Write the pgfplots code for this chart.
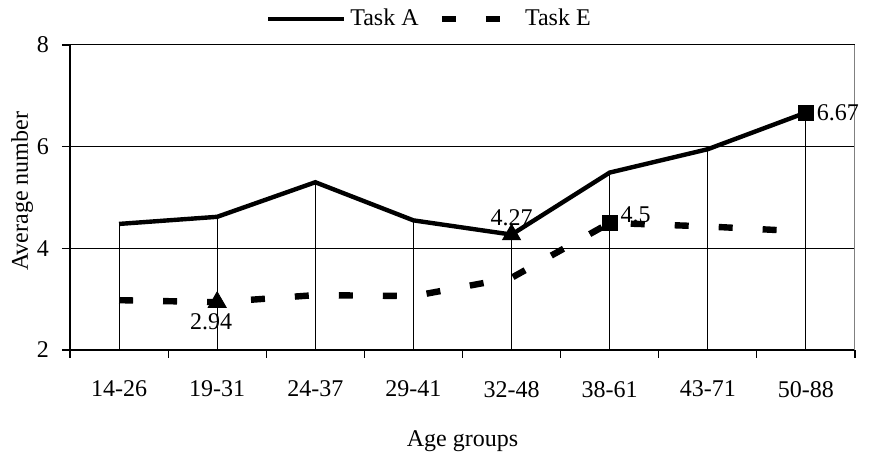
\documentclass[border=0pt]{standalone}
\usepackage{pgfplots}
\pgfplotsset{compat=1.18}
\usepackage{fontspec}
\setmainfont{Liberation Serif}
\begin{document}
\begin{tikzpicture}
\begin{axis}[
  scale only axis, width=392.5pt, height=152.5pt,
  xmin=-0.5, xmax=7.5, ymin=2, ymax=8,
  axis lines*=left,
  axis line style={black, line width=0.9pt},
  xtick={-0.5,0.5,...,7.5}, xticklabels={},
  extra x ticks={0,1,2,3,4,5,6,7},
  extra x tick labels={14-26,19-31,24-37,29-41,32-48,38-61,43-71,50-88},
  extra x tick style={major tick length=0pt, xticklabel style={yshift=-12pt}},
  ytick={2,4,6,8},
  tick align=outside, major tick length=4pt,
  tick style={black, line width=0.6pt},
  ymajorgrids, grid style={black, line width=0.5pt},
  /pgf/number format/assume math mode=true,
  tick label style={font=\fontsize{12}{14}\selectfont},
  yticklabel style={xshift=-3pt},
  xlabel={Age groups}, ylabel={Average number},
  label style={font=\fontsize{12}{14}\selectfont},
  xlabel style={at={(axis description cs:0.5,-0.30)}, anchor=center},
  ylabel style={at={(axis description cs:-0.061,0.52)}, anchor=center},
  legend style={at={(0.459,1.085)}, anchor=center, draw=none, fill=none,
    legend columns=2, font=\fontsize{12}{14}\selectfont,
    /tikz/every even column/.append style={column sep=8pt}},
  legend image code/.code={\draw[#1] (0pt,0pt) -- (38pt,0pt);},
  clip=true,
]
\addplot[ycomb, black, line width=0.5pt, no marks, forget plot] coordinates {
  (0,4.48) (1,4.62) (2,5.30) (3,4.55) (4,4.27) (5,5.49) (6,5.95) (7,6.67)};
\addplot[black, line width=2.2pt, no marks] coordinates {
  (0,4.48) (1,4.62) (2,5.30) (3,4.55) (4,4.27) (5,5.49) (6,5.95) (7,6.67)};
\addlegendentry{Task A}
\addplot[black, line width=3.2pt, no marks, dash pattern=on 7pt off 15pt] coordinates {
  (0,2.98) (1,2.94) (2,3.08) (3,3.06) (4,3.42) (5,4.50) (6,4.43) (7,4.33)};
\addlegendentry{Task E}
\addplot[only marks, mark=triangle*, mark size=5.2pt, black, forget plot,
  nodes near coords, point meta=explicit symbolic,
  every node near coord/.style={font=\fontsize{12}{14}\selectfont, anchor=south, yshift=1pt}]
  coordinates {(4,4.27) [4.27]};
\addplot[only marks, mark=triangle*, mark size=5.2pt, black, forget plot,
  nodes near coords, point meta=explicit symbolic,
  every node near coord/.style={font=\fontsize{12}{14}\selectfont, anchor=north, xshift=-3pt, yshift=-2pt}]
  coordinates {(1,2.94) [2.94]};
\addplot[only marks, mark=square*, mark size=3.8pt, black, forget plot,
  nodes near coords, point meta=explicit symbolic,
  every node near coord/.style={font=\fontsize{12}{14}\selectfont, anchor=west, xshift=2pt, yshift=4pt}]
  coordinates {(5,4.50) [4.5]};
\addplot[only marks, mark=square*, mark size=3.8pt, black, forget plot,
  nodes near coords, point meta=explicit symbolic,
  every node near coord/.style={font=\fontsize{12}{14}\selectfont, anchor=west, xshift=2pt, yshift=0pt}]
  coordinates {(7,6.67) [6.67]};
\draw[gray, line width=0.8pt] (rel axis cs:1,0) -- (rel axis cs:1,1);
\end{axis}
\pgfresetboundingbox
\path (-35pt,-54.5pt) rectangle (399.5pt,175pt);
\end{tikzpicture}
\end{document}
